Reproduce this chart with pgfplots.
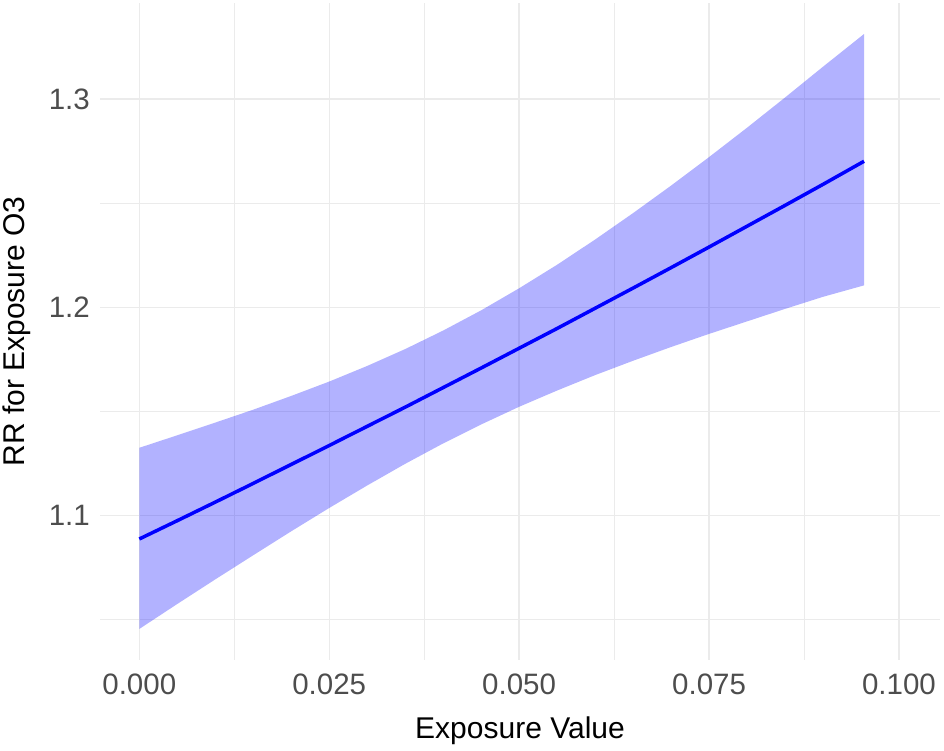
\documentclass[border=0pt]{standalone}
\usepackage{pgfplots}
\pgfplotsset{compat=1.18}
\usepackage{pgfplotstable}
\usepgfplotslibrary{fillbetween}
\usepackage{fontspec}
\setmainfont{Liberation Sans}
\definecolor{gridc}{RGB}{235,235,235}
\definecolor{tickc}{RGB}{77,77,77}
\pgfplotstableread{
x lo fit hi
0.000 1.0455 1.0887 1.1325
0.005 1.0575 1.0975 1.1385
0.010 1.0693 1.1064 1.1446
0.015 1.0809 1.1154 1.1508
0.020 1.0924 1.1245 1.1574
0.025 1.1036 1.1336 1.1643
0.030 1.1144 1.1428 1.1718
0.035 1.1248 1.1520 1.1799
0.040 1.1346 1.1614 1.1888
0.045 1.1437 1.1708 1.1985
0.050 1.1522 1.1803 1.2091
0.055 1.1600 1.1898 1.2204
0.060 1.1674 1.1995 1.2325
0.065 1.1743 1.2092 1.2452
0.070 1.1809 1.2190 1.2584
0.075 1.1872 1.2289 1.2721
0.080 1.1932 1.2389 1.2862
0.085 1.1992 1.2489 1.3007
0.090 1.2050 1.2590 1.3155
0.0954 1.2105 1.2701 1.3312
}\datatab
\begin{document}
\begin{tikzpicture}
\begin{axis}[
  at={(100pt,91pt)}, anchor=south west,
  scale only axis, width=840pt, height=657pt,
  xmin=-0.00517, xmax=0.1054, ymin=1.0306, ymax=1.3461,
  axis line style={draw=none},
  major tick length=0pt, minor tick length=0pt,
  xtick={0,0.025,0.05,0.075,0.1},
  xticklabels={0.000,0.025,0.050,0.075,0.100},
  minor xtick={0.0125,0.0375,0.0625,0.0875},
  ytick={1.1,1.2,1.3},
  yticklabels={1.1,1.2,1.3},
  minor ytick={1.05,1.15,1.25},
  grid=both,
  major grid style={draw=gridc, line width=1.3pt},
  minor grid style={draw=gridc, line width=0.8pt},
  ticklabel style={font=\fontsize{29.5}{30}\selectfont, text=tickc, inner sep=0pt},
  xticklabel style={anchor=north, yshift=-14pt},
  yticklabel style={anchor=east, xshift=-10pt},
  xlabel={Exposure Value},
  ylabel={RR for Exposure O3},
  label style={font=\fontsize{30}{31}\selectfont, text=black, inner sep=0pt},
  xlabel style={at={(axis description cs:0.5,-0.1202)}, anchor=base},
  ylabel style={at={(axis description cs:-0.0893,0.5)}, anchor=base},
  clip=false,
]
\addplot[name path=up, draw=none, forget plot] table[x=x, y=hi] {\datatab};
\addplot[name path=lo, draw=none, forget plot] table[x=x, y=lo] {\datatab};
\addplot[fill=blue, fill opacity=0.3, draw=none] fill between[of=up and lo];
\addplot[blue, line width=3.5pt] table[x=x, y=fit] {\datatab};
\end{axis}
\path (0,0) rectangle (944pt,751pt);
\end{tikzpicture}
\end{document}
